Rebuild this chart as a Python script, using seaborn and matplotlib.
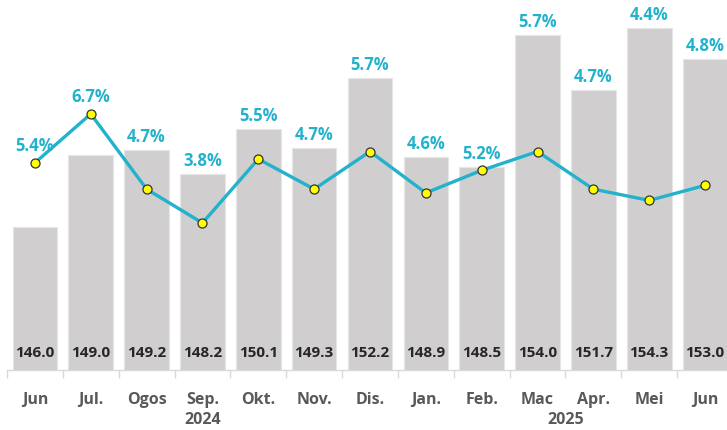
import matplotlib
matplotlib.use("Agg")
import matplotlib.pyplot as plt
import numpy as np
import pandas as pd
import seaborn as sns

# Data
months = ["Jun", "Jul.", "Ogos", "Sep.", "Okt.", "Nov.", "Dis.",
          "Jan.", "Feb.", "Mac", "Apr.", "Mei", "Jun"]
index_values = [146.0, 149.0, 149.2, 148.2, 150.1, 149.3, 152.2,
                148.9, 148.5, 154.0, 151.7, 154.3, 153.0]
inflation = [5.4, 6.7, 4.7, 3.8, 5.5, 4.7, 5.7, 4.6, 5.2, 5.7, 4.7, 4.4, 4.8]
years = ["2024", "2025"]
year_centers = [3, 9.5]

BAR_COLOR = "#D0CECE"
LINE_COLOR = "#22B2CC"
TEXT_DARK = "#262626"
TEXT_GRAY = "#595959"

df = pd.DataFrame({
    "pos": np.arange(len(months)),
    "month": months,
    "index": index_values,
    "inflation": inflation,
})

sns.set_style("white")
plt.rcParams["font.family"] = ["Open Sans", "DejaVu Sans"]

fig = plt.figure(figsize=(7.27, 4.30), dpi=100)
# axes deliberately runs slightly past the right edge (chart is cropped)
ax = fig.add_axes([7 / 727, 60 / 430, 726 / 727, 370 / 430])

sns.barplot(data=df, x="pos", y="index", color=BAR_COLOR, width=0.8,
            edgecolor="#E6E6E6", linewidth=0.8, saturation=1, ax=ax)
ax.set_ylim(140.04, 155.46)
ax.set_xlim(-0.5, 12.5)

ax2 = ax.twinx()
sns.lineplot(data=df, x="pos", y="inflation", color=LINE_COLOR, linewidth=2.4,
             marker="o", markersize=6.5, markerfacecolor="#FFFF00",
             markeredgecolor="#333333", markeredgewidth=0.9, ax=ax2)
ax2.set_ylim(-0.11, 9.73)
ax2.set_xlim(-0.5, 12.5)

for a in (ax, ax2):
    a.set_ylabel("")
    a.set_xlabel("")
    a.set_yticks([])
    for side in ["top", "left", "right"]:
        a.spines[side].set_visible(False)
ax2.spines["bottom"].set_visible(False)
ax2.tick_params(axis="x", which="both", bottom=False, labelbottom=False)
ax.spines["bottom"].set_color("#D9D9D9")
ax.spines["bottom"].set_linewidth(1)

# category labels and boundary ticks
ax.set_xticks(df["pos"])
ax.set_xticklabels(months, fontsize=11.5, fontweight="bold", color=TEXT_GRAY)
ax.tick_params(axis="x", which="major", length=0, pad=16)
ax.set_xticks(np.arange(-0.5, 13, 1), minor=True)
ax.tick_params(axis="x", which="minor", bottom=True, length=6,
               color="#D9D9D9", width=1)

for yr, xc in zip(years, year_centers):
    ax.annotate(yr, xy=(xc, 0), xycoords=("data", "axes fraction"),
                xytext=(0, -50), textcoords="offset pixels",
                ha="center", va="center", fontsize=11.5, fontweight="bold",
                color=TEXT_GRAY)

# index values inside bars
for x, v in zip(df["pos"], index_values):
    ax.annotate(f"{v:.1f}", xy=(x, 0), xycoords=("data", "axes fraction"),
                xytext=(0, 17), textcoords="offset pixels",
                ha="center", va="center", fontsize=11, fontweight="bold",
                color=TEXT_DARK)

# inflation labels above the higher of bar top or marker
fig.canvas.draw()
for x, v, p in zip(df["pos"], index_values, inflation):
    bar_y = ax.transData.transform((x, v))[1]
    pt_y = ax2.transData.transform((x, p))[1]
    if pt_y > bar_y:
        base, off = pt_y, 17
    else:
        base, off = bar_y, 13
    ax2.annotate(f"{p:.1f}%", xy=(x, p), xycoords="data",
                 xytext=(0, base - pt_y + off), textcoords="offset pixels",
                 ha="center", va="center", fontsize=12, fontweight="bold",
                 color=LINE_COLOR)

fig.savefig("out.png", dpi=100)
